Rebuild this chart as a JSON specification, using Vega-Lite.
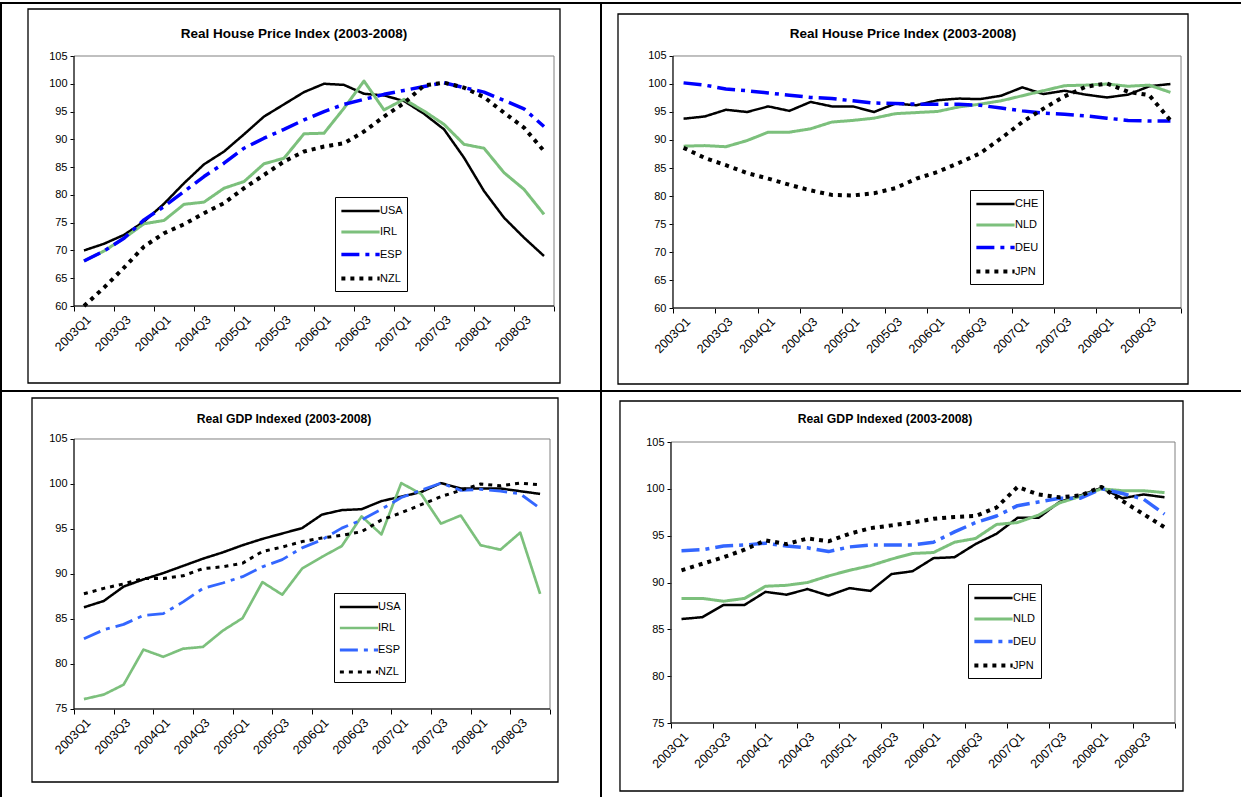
{
"$schema": "https://vega.github.io/schema/vega-lite/v6.json",
"padding": {"left": 0, "top": 2, "right": 0, "bottom": 0},
"background": "white",
"columns": 2,
"spacing": 0,
"bounds": "flush",
"align": "each",
"resolve": {"scale": {"color": "independent", "strokeDash": "independent", "strokeWidth": "independent", "x": "independent", "y": "independent"}, "legend": {"color": "independent", "strokeDash": "independent", "strokeWidth": "independent"}},
"datasets": {
"hp_a": [
{"q":1,"USA":70.0,"IRL":68.1,"ESP":68.1,"NZL":60.0},
{"q":2,"USA":71.2,"IRL":69.9,"ESP":69.9,"NZL":63.3},
{"q":3,"USA":72.8,"IRL":72.2,"ESP":72.2,"NZL":66.9},
{"q":4,"USA":75.2,"IRL":74.8,"ESP":75.5,"NZL":70.7},
{"q":5,"USA":78.4,"IRL":75.4,"ESP":77.9,"NZL":73.1},
{"q":6,"USA":82.1,"IRL":78.3,"ESP":80.6,"NZL":74.7},
{"q":7,"USA":85.5,"IRL":78.7,"ESP":83.3,"NZL":76.7},
{"q":8,"USA":87.8,"IRL":81.2,"ESP":85.7,"NZL":78.5},
{"q":9,"USA":90.9,"IRL":82.4,"ESP":88.4,"NZL":81.2},
{"q":10,"USA":94.1,"IRL":85.6,"ESP":90.2,"NZL":83.6},
{"q":11,"USA":96.3,"IRL":86.6,"ESP":91.8,"NZL":86.0},
{"q":12,"USA":98.5,"IRL":91.0,"ESP":93.5,"NZL":87.8},
{"q":13,"USA":100.0,"IRL":91.1,"ESP":95.0,"NZL":88.7},
{"q":14,"USA":99.8,"IRL":95.6,"ESP":96.3,"NZL":89.3},
{"q":15,"USA":98.2,"IRL":100.5,"ESP":97.2,"NZL":91.4},
{"q":16,"USA":97.9,"IRL":95.3,"ESP":98.1,"NZL":94.1},
{"q":17,"USA":96.9,"IRL":97.2,"ESP":98.8,"NZL":96.5},
{"q":18,"USA":94.6,"IRL":95.1,"ESP":99.5,"NZL":99.7},
{"q":19,"USA":91.8,"IRL":92.7,"ESP":100.2,"NZL":100.2},
{"q":20,"USA":86.7,"IRL":89.1,"ESP":99.3,"NZL":99.3},
{"q":21,"USA":80.7,"IRL":88.4,"ESP":98.5,"NZL":97.6},
{"q":22,"USA":75.9,"IRL":84.0,"ESP":97.0,"NZL":94.8},
{"q":23,"USA":72.3,"IRL":81.0,"ESP":95.5,"NZL":92.1},
{"q":24,"USA":69.0,"IRL":76.5,"ESP":92.3,"NZL":87.9}
],
"hp_b": [
{"q":1,"CHE":93.8,"NLD":88.9,"DEU":100.2,"JPN":88.6},
{"q":2,"CHE":94.2,"NLD":89.0,"DEU":99.8,"JPN":86.8},
{"q":3,"CHE":95.4,"NLD":88.8,"DEU":99.1,"JPN":85.5},
{"q":4,"CHE":95.0,"NLD":89.9,"DEU":98.8,"JPN":84.1},
{"q":5,"CHE":96.0,"NLD":91.4,"DEU":98.4,"JPN":83.1},
{"q":6,"CHE":95.2,"NLD":91.4,"DEU":98.0,"JPN":82.0},
{"q":7,"CHE":96.8,"NLD":92.0,"DEU":97.6,"JPN":81.0},
{"q":8,"CHE":96.0,"NLD":93.2,"DEU":97.4,"JPN":80.2},
{"q":9,"CHE":96.0,"NLD":93.5,"DEU":97.0,"JPN":80.1},
{"q":10,"CHE":95.0,"NLD":93.9,"DEU":96.6,"JPN":80.5},
{"q":11,"CHE":96.5,"NLD":94.7,"DEU":96.5,"JPN":81.4},
{"q":12,"CHE":96.2,"NLD":94.9,"DEU":96.4,"JPN":83.1},
{"q":13,"CHE":97.1,"NLD":95.1,"DEU":96.4,"JPN":84.3},
{"q":14,"CHE":97.4,"NLD":95.9,"DEU":96.4,"JPN":85.9},
{"q":15,"CHE":97.3,"NLD":96.4,"DEU":96.2,"JPN":87.6},
{"q":16,"CHE":97.9,"NLD":97.0,"DEU":95.7,"JPN":90.3},
{"q":17,"CHE":99.4,"NLD":97.9,"DEU":95.2,"JPN":93.2},
{"q":18,"CHE":98.2,"NLD":98.8,"DEU":94.8,"JPN":95.6},
{"q":19,"CHE":98.8,"NLD":99.7,"DEU":94.6,"JPN":97.8},
{"q":20,"CHE":98.1,"NLD":99.8,"DEU":94.3,"JPN":99.5},
{"q":21,"CHE":97.6,"NLD":100.0,"DEU":93.9,"JPN":100.1},
{"q":22,"CHE":98.1,"NLD":99.6,"DEU":93.5,"JPN":98.6},
{"q":23,"CHE":99.6,"NLD":99.8,"DEU":93.4,"JPN":98.0},
{"q":24,"CHE":100.0,"NLD":98.5,"DEU":93.4,"JPN":93.5}
],
"gdp_a": [
{"q":1,"USA":86.3,"IRL":76.1,"ESP":82.8,"NZL":87.8},
{"q":2,"USA":87.0,"IRL":76.6,"ESP":83.8,"NZL":88.4},
{"q":3,"USA":88.6,"IRL":77.7,"ESP":84.4,"NZL":88.9},
{"q":4,"USA":89.4,"IRL":81.6,"ESP":85.4,"NZL":89.5},
{"q":5,"USA":90.1,"IRL":80.8,"ESP":85.6,"NZL":89.5},
{"q":6,"USA":90.9,"IRL":81.7,"ESP":86.9,"NZL":89.8},
{"q":7,"USA":91.7,"IRL":81.9,"ESP":88.4,"NZL":90.6},
{"q":8,"USA":92.4,"IRL":83.7,"ESP":89.0,"NZL":90.8},
{"q":9,"USA":93.2,"IRL":85.1,"ESP":89.7,"NZL":91.2},
{"q":10,"USA":93.9,"IRL":89.1,"ESP":90.8,"NZL":92.5},
{"q":11,"USA":94.5,"IRL":87.7,"ESP":91.6,"NZL":93.0},
{"q":12,"USA":95.1,"IRL":90.6,"ESP":92.9,"NZL":93.6},
{"q":13,"USA":96.6,"IRL":91.9,"ESP":93.8,"NZL":94.0},
{"q":14,"USA":97.1,"IRL":93.1,"ESP":95.1,"NZL":94.3},
{"q":15,"USA":97.2,"IRL":96.4,"ESP":96.0,"NZL":94.7},
{"q":16,"USA":98.1,"IRL":94.4,"ESP":97.2,"NZL":96.0},
{"q":17,"USA":98.6,"IRL":100.1,"ESP":98.5,"NZL":96.8},
{"q":18,"USA":99.1,"IRL":98.9,"ESP":99.3,"NZL":97.7},
{"q":19,"USA":100.1,"IRL":95.6,"ESP":100.1,"NZL":98.6},
{"q":20,"USA":99.5,"IRL":96.5,"ESP":99.3,"NZL":99.3},
{"q":21,"USA":99.5,"IRL":93.2,"ESP":99.4,"NZL":100.0},
{"q":22,"USA":99.5,"IRL":92.7,"ESP":99.2,"NZL":99.8},
{"q":23,"USA":99.2,"IRL":94.6,"ESP":98.9,"NZL":100.1},
{"q":24,"USA":98.9,"IRL":87.8,"ESP":97.3,"NZL":99.9}
],
"gdp_b": [
{"q":1,"CHE":86.1,"NLD":88.3,"DEU":93.4,"JPN":91.3},
{"q":2,"CHE":86.3,"NLD":88.3,"DEU":93.5,"JPN":92.0},
{"q":3,"CHE":87.6,"NLD":88.0,"DEU":93.9,"JPN":92.7},
{"q":4,"CHE":87.6,"NLD":88.3,"DEU":94.0,"JPN":93.5},
{"q":5,"CHE":89.0,"NLD":89.6,"DEU":94.2,"JPN":94.5},
{"q":6,"CHE":88.7,"NLD":89.7,"DEU":93.9,"JPN":94.1},
{"q":7,"CHE":89.3,"NLD":90.0,"DEU":93.7,"JPN":94.7},
{"q":8,"CHE":88.6,"NLD":90.7,"DEU":93.3,"JPN":94.4},
{"q":9,"CHE":89.4,"NLD":91.3,"DEU":93.8,"JPN":95.2},
{"q":10,"CHE":89.1,"NLD":91.8,"DEU":94.0,"JPN":95.8},
{"q":11,"CHE":90.9,"NLD":92.5,"DEU":94.0,"JPN":96.1},
{"q":12,"CHE":91.2,"NLD":93.1,"DEU":94.0,"JPN":96.4},
{"q":13,"CHE":92.6,"NLD":93.2,"DEU":94.3,"JPN":96.8},
{"q":14,"CHE":92.7,"NLD":94.3,"DEU":95.4,"JPN":97.0},
{"q":15,"CHE":94.1,"NLD":94.7,"DEU":96.4,"JPN":97.1},
{"q":16,"CHE":95.2,"NLD":96.2,"DEU":97.1,"JPN":98.0},
{"q":17,"CHE":96.9,"NLD":96.4,"DEU":98.2,"JPN":100.2},
{"q":18,"CHE":96.9,"NLD":97.2,"DEU":98.6,"JPN":99.4},
{"q":19,"CHE":98.6,"NLD":98.5,"DEU":99.0,"JPN":99.1},
{"q":20,"CHE":99.3,"NLD":99.2,"DEU":99.0,"JPN":99.3},
{"q":21,"CHE":100.1,"NLD":100.0,"DEU":100.0,"JPN":100.2},
{"q":22,"CHE":99.0,"NLD":99.8,"DEU":99.5,"JPN":98.7},
{"q":23,"CHE":99.4,"NLD":99.8,"DEU":98.9,"JPN":97.3},
{"q":24,"CHE":99.1,"NLD":99.6,"DEU":97.3,"JPN":95.9}
]
},
"concat": [
{
"width": 600, "height": 388,
"layer": [
{"data": {"values": [{}]}, "mark": {"type": "rect", "fill": "white", "fillOpacity": 0, "stroke": "black", "strokeWidth": 1.3},
 "encoding": {"x": {"datum": -1.8}, "x2": {"datum": 24.8}, "y": {"datum": 113.46}, "y2": {"datum": 46.14}}},
{"data": {"values": [{}]}, "mark": {"type": "rect", "fill": "white", "fillOpacity": 0, "stroke": "#808080", "strokeWidth": 1},
 "encoding": {"x": {"datum": 0.5}, "x2": {"datum": 24.5}, "y": {"datum": 60}, "y2": {"datum": 105}}},
{"data": {"name": "hp_a"}, "transform": [{"fold": ["USA", "IRL", "ESP", "NZL"], "as": ["country", "value"]}],
 "mark": {"type": "line", "strokeJoin": "round"},
 "encoding": {
  "x": {"field": "q", "type": "quantitative", "scale": {"domain": [-3.15, 26.85], "nice": false, "zero": false},
        "axis": {"title": null, "values": [0.5,1.5,2.5,3.5,4.5,5.5,6.5,7.5,8.5,9.5,10.5,11.5,12.5,13.5,14.5,15.5,16.5,17.5,18.5,19.5,20.5,21.5,22.5,23.5,24.5], "offset": -85, "labelOffset": 10, "labelFontSize": 12.5}},
  "y": {"field": "value", "type": "quantitative", "scale": {"domain": [44.7, 114.54], "nice": false, "zero": false},
        "axis": {"title": null, "values": [60,65,70,75,80,85,90,95,100,105], "offset": -73}},
  "color": {"field": "country", "type": "nominal", "scale": {"domain": ["USA", "IRL", "ESP", "NZL"], "range": ["#000000", "#7cc07c", "#0000ff", "#000000"]},
        "legend": {"orient": "none", "legendX": 334, "legendY": 194}},
  "strokeDash": {"field": "country", "type": "nominal", "scale": {"domain": ["USA", "IRL", "ESP", "NZL"], "range": [[1,0],[1,0],[18,6,4,6],[4,5]]},
        "legend": {"orient": "none", "legendX": 334, "legendY": 194}},
  "strokeWidth": {"field": "country", "type": "nominal", "scale": {"domain": ["USA", "IRL", "ESP", "NZL"], "range": [2.5, 4, 3, 3]},
        "legend": {"orient": "none", "legendX": 334, "legendY": 194}}
 }},
{"data": {"values": [{}]}, "mark": {"type": "rule", "color": "black", "strokeWidth": 1},
 "encoding": {"x": {"datum": 0.5}, "y": {"datum": 60}, "y2": {"datum": 105}}},
{"data": {"values": [{}]}, "mark": {"type": "rule", "color": "black", "strokeWidth": 1},
 "encoding": {"x": {"datum": 0.5}, "x2": {"datum": 24.5}, "y": {"datum": 60}}},
{"data": {"values": [{}]}, "mark": {"type": "text", "text": "Real House Price Index (2003-2008)", "fontWeight": "bold", "fontSize": 13.5, "align": "center", "baseline": "middle"},
 "encoding": {"x": {"datum": 11.5}, "y": {"datum": 108.96}}}
]
},
{
"width": 641, "height": 388,
"layer": [
{"data": {"values": [{}]}, "mark": {"type": "rect", "fill": "white", "fillOpacity": 0, "stroke": "black", "strokeWidth": 1.3},
 "encoding": {"x": {"datum": -2.098}, "x2": {"datum": 24.831}, "y": {"datum": 112.5}, "y2": {"datum": 46.43}}},
{"data": {"values": [{}]}, "mark": {"type": "rect", "fill": "white", "fillOpacity": 0, "stroke": "#808080", "strokeWidth": 1},
 "encoding": {"x": {"datum": 0.5}, "x2": {"datum": 24.5}, "y": {"datum": 60}, "y2": {"datum": 105}}},
{"data": {"name": "hp_b"}, "transform": [{"fold": ["CHE", "NLD", "DEU", "JPN"], "as": ["country", "value"]}],
 "mark": {"type": "line", "strokeJoin": "round"},
 "encoding": {
  "x": {"field": "q", "type": "quantitative", "scale": {"domain": [-2.901, 27.381], "nice": false, "zero": false},
        "axis": {"title": null, "values": [0.5,1.5,2.5,3.5,4.5,5.5,6.5,7.5,8.5,9.5,10.5,11.5,12.5,13.5,14.5,15.5,16.5,17.5,18.5,19.5,20.5,21.5,22.5,23.5,24.5], "offset": -83, "labelOffset": 10.6, "labelFontSize": 12.5}},
  "y": {"field": "value", "type": "quantitative", "scale": {"domain": [45.179, 114.464], "nice": false, "zero": false},
        "axis": {"title": null, "values": [60,65,70,75,80,85,90,95,100,105], "offset": -72}},
  "color": {"field": "country", "type": "nominal", "scale": {"domain": ["CHE", "NLD", "DEU", "JPN"], "range": ["#000000", "#7cc07c", "#0000ff", "#000000"]},
        "legend": {"orient": "none", "legendX": 369, "legendY": 187}},
  "strokeDash": {"field": "country", "type": "nominal", "scale": {"domain": ["CHE", "NLD", "DEU", "JPN"], "range": [[1,0],[1,0],[18,6,4,6],[4,5]]},
        "legend": {"orient": "none", "legendX": 369, "legendY": 187}},
  "strokeWidth": {"field": "country", "type": "nominal", "scale": {"domain": ["CHE", "NLD", "DEU", "JPN"], "range": [2.5, 4, 3, 3]},
        "legend": {"orient": "none", "legendX": 369, "legendY": 187}}
 }},
{"data": {"values": [{}]}, "mark": {"type": "rule", "color": "black", "strokeWidth": 1},
 "encoding": {"x": {"datum": 0.5}, "y": {"datum": 60}, "y2": {"datum": 105}}},
{"data": {"values": [{}]}, "mark": {"type": "rule", "color": "black", "strokeWidth": 1},
 "encoding": {"x": {"datum": 0.5}, "x2": {"datum": 24.5}, "y": {"datum": 60}}},
{"data": {"values": [{}]}, "mark": {"type": "text", "text": "Real House Price Index (2003-2008)", "fontWeight": "bold", "fontSize": 13.5, "align": "center", "baseline": "middle"},
 "encoding": {"x": {"datum": 11.364}, "y": {"datum": 108.93}}}
]
},
{
"width": 600, "height": 407,
"layer": [
{"data": {"values": [{}]}, "mark": {"type": "rect", "fill": "white", "fillOpacity": 0, "stroke": "black", "strokeWidth": 1.3},
 "encoding": {"x": {"datum": -1.618}, "x2": {"datum": 24.903}, "y": {"datum": 109.556}, "y2": {"datum": 66.889}}},
{"data": {"values": [{}]}, "mark": {"type": "rect", "fill": "white", "fillOpacity": 0, "stroke": "#808080", "strokeWidth": 1},
 "encoding": {"x": {"datum": 0.5}, "x2": {"datum": 24.5}, "y": {"datum": 75}, "y2": {"datum": 105}}},
{"data": {"name": "gdp_a"}, "transform": [{"fold": ["USA", "IRL", "ESP", "NZL"], "as": ["country", "value"]}],
 "mark": {"type": "line", "strokeJoin": "round"},
 "encoding": {
  "x": {"field": "q", "type": "quantitative", "scale": {"domain": [-3.181, 27.071], "nice": false, "zero": false},
        "axis": {"title": null, "values": [0.5,1.5,2.5,3.5,4.5,5.5,6.5,7.5,8.5,9.5,10.5,11.5,12.5,13.5,14.5,15.5,16.5,17.5,18.5,19.5,20.5,21.5,22.5,23.5,24.5], "offset": -89, "labelOffset": 9.9, "labelFontSize": 12.5}},
  "y": {"field": "value", "type": "quantitative", "scale": {"domain": [65.111, 110.333], "nice": false, "zero": false},
        "axis": {"title": null, "values": [75,80,85,90,95,100,105], "offset": -73}},
  "color": {"field": "country", "type": "nominal", "scale": {"domain": ["USA", "IRL", "ESP", "NZL"], "range": ["#000000", "#7cc07c", "#3366ff", "#000000"]},
        "legend": {"orient": "none", "legendX": 333, "legendY": 202}},
  "strokeDash": {"field": "country", "type": "nominal", "scale": {"domain": ["USA", "IRL", "ESP", "NZL"], "range": [[1,0],[1,0],[18,6,4,6],[4,5]]},
        "legend": {"orient": "none", "legendX": 333, "legendY": 202}},
  "strokeWidth": {"field": "country", "type": "nominal", "scale": {"domain": ["USA", "IRL", "ESP", "NZL"], "range": [2.5, 3, 3, 3]},
        "legend": {"orient": "none", "legendX": 333, "legendY": 202}}
 }},
{"data": {"values": [{}]}, "mark": {"type": "rule", "color": "black", "strokeWidth": 1},
 "encoding": {"x": {"datum": 0.5}, "y": {"datum": 75}, "y2": {"datum": 105}}},
{"data": {"values": [{}]}, "mark": {"type": "rule", "color": "black", "strokeWidth": 1},
 "encoding": {"x": {"datum": 0.5}, "x2": {"datum": 24.5}, "y": {"datum": 75}}},
{"data": {"values": [{}]}, "mark": {"type": "text", "text": "Real GDP Indexed (2003-2008)", "fontWeight": "bold", "fontSize": 12.2, "align": "center", "baseline": "middle"},
 "encoding": {"x": {"datum": 11.09}, "y": {"datum": 107.22}}}
]
},
{
"width": 641, "height": 407,
"layer": [
{"data": {"values": [{}]}, "mark": {"type": "rect", "fill": "white", "fillOpacity": 0, "stroke": "black", "strokeWidth": 1.3},
 "encoding": {"x": {"datum": -1.929}, "x2": {"datum": 24.881}, "y": {"datum": 109.377}, "y2": {"datum": 67.74}}},
{"data": {"values": [{}]}, "mark": {"type": "rect", "fill": "white", "fillOpacity": 0, "stroke": "#808080", "strokeWidth": 1},
 "encoding": {"x": {"datum": 0.5}, "x2": {"datum": 24.5}, "y": {"datum": 75}, "y2": {"datum": 105}}},
{"data": {"name": "gdp_b"}, "transform": [{"fold": ["CHE", "NLD", "DEU", "JPN"], "as": ["country", "value"]}],
 "mark": {"type": "line", "strokeJoin": "round"},
 "encoding": {
  "x": {"field": "q", "type": "quantitative", "scale": {"domain": [-2.833, 27.69], "nice": false, "zero": false},
        "axis": {"title": null, "values": [0.5,1.5,2.5,3.5,4.5,5.5,6.5,7.5,8.5,9.5,10.5,11.5,12.5,13.5,14.5,15.5,16.5,17.5,18.5,19.5,20.5,21.5,22.5,23.5,24.5], "offset": -75, "labelOffset": 10.5, "labelFontSize": 12.5}},
  "y": {"field": "value", "type": "quantitative", "scale": {"domain": [66.993, 110.445], "nice": false, "zero": false},
        "axis": {"title": null, "values": [75,80,85,90,95,100,105], "offset": -70}},
  "color": {"field": "country", "type": "nominal", "scale": {"domain": ["CHE", "NLD", "DEU", "JPN"], "range": ["#000000", "#7cc07c", "#3366ff", "#000000"]},
        "legend": {"orient": "none", "legendX": 367, "legendY": 193}},
  "strokeDash": {"field": "country", "type": "nominal", "scale": {"domain": ["CHE", "NLD", "DEU", "JPN"], "range": [[1,0],[1,0],[18,6,4,6],[4,5]]},
        "legend": {"orient": "none", "legendX": 367, "legendY": 193}},
  "strokeWidth": {"field": "country", "type": "nominal", "scale": {"domain": ["CHE", "NLD", "DEU", "JPN"], "range": [2.5, 4, 3, 3]},
        "legend": {"orient": "none", "legendX": 367, "legendY": 193}}
 }},
{"data": {"values": [{}]}, "mark": {"type": "rule", "color": "black", "strokeWidth": 1},
 "encoding": {"x": {"datum": 0.5}, "y": {"datum": 75}, "y2": {"datum": 105}}},
{"data": {"values": [{}]}, "mark": {"type": "rule", "color": "black", "strokeWidth": 1},
 "encoding": {"x": {"datum": 0.5}, "x2": {"datum": 24.5}, "y": {"datum": 75}}},
{"data": {"values": [{}]}, "mark": {"type": "text", "text": "Real GDP Indexed (2003-2008)", "fontWeight": "bold", "fontSize": 12.2, "align": "center", "baseline": "middle"},
 "encoding": {"x": {"datum": 10.69}, "y": {"datum": 107.46}}}
]
}
],
"config": {
 "font": "Liberation Sans",
 "view": {"stroke": "black", "strokeWidth": 2},
 "axis": {"labelFont": "Liberation Sans", "labelFontSize": 11, "labelColor": "black", "tickColor": "black", "tickWidth": 1, "domain": false, "grid": false, "zindex": 1, "labelOverlap": false, "labelFlush": false, "labelBound": false},
 "axisX": {"labelAngle": -45, "tickSize": 5, "labelPadding": 2,
   "labelExpr": "((datum.value - 0.5) % 2 == 0 && datum.value < 24) ? ((2003 + floor((datum.value - 0.5) / 4)) + 'Q' + ((datum.value - 0.5) % 4 + 1)) : ''"},
 "axisY": {"tickSize": 4, "labelPadding": 3},
 "legend": {"title": null, "symbolType": "M-2.25,0H2.25", "symbolSize": 289, "labelFont": "Liberation Sans", "labelFontSize": 11, "labelColor": "black", "rowPadding": 6, "padding": 4, "strokeColor": "black", "fillColor": "white", "symbolOffset": 11, "labelOffset": 9, "cornerRadius": 0}
}
}
